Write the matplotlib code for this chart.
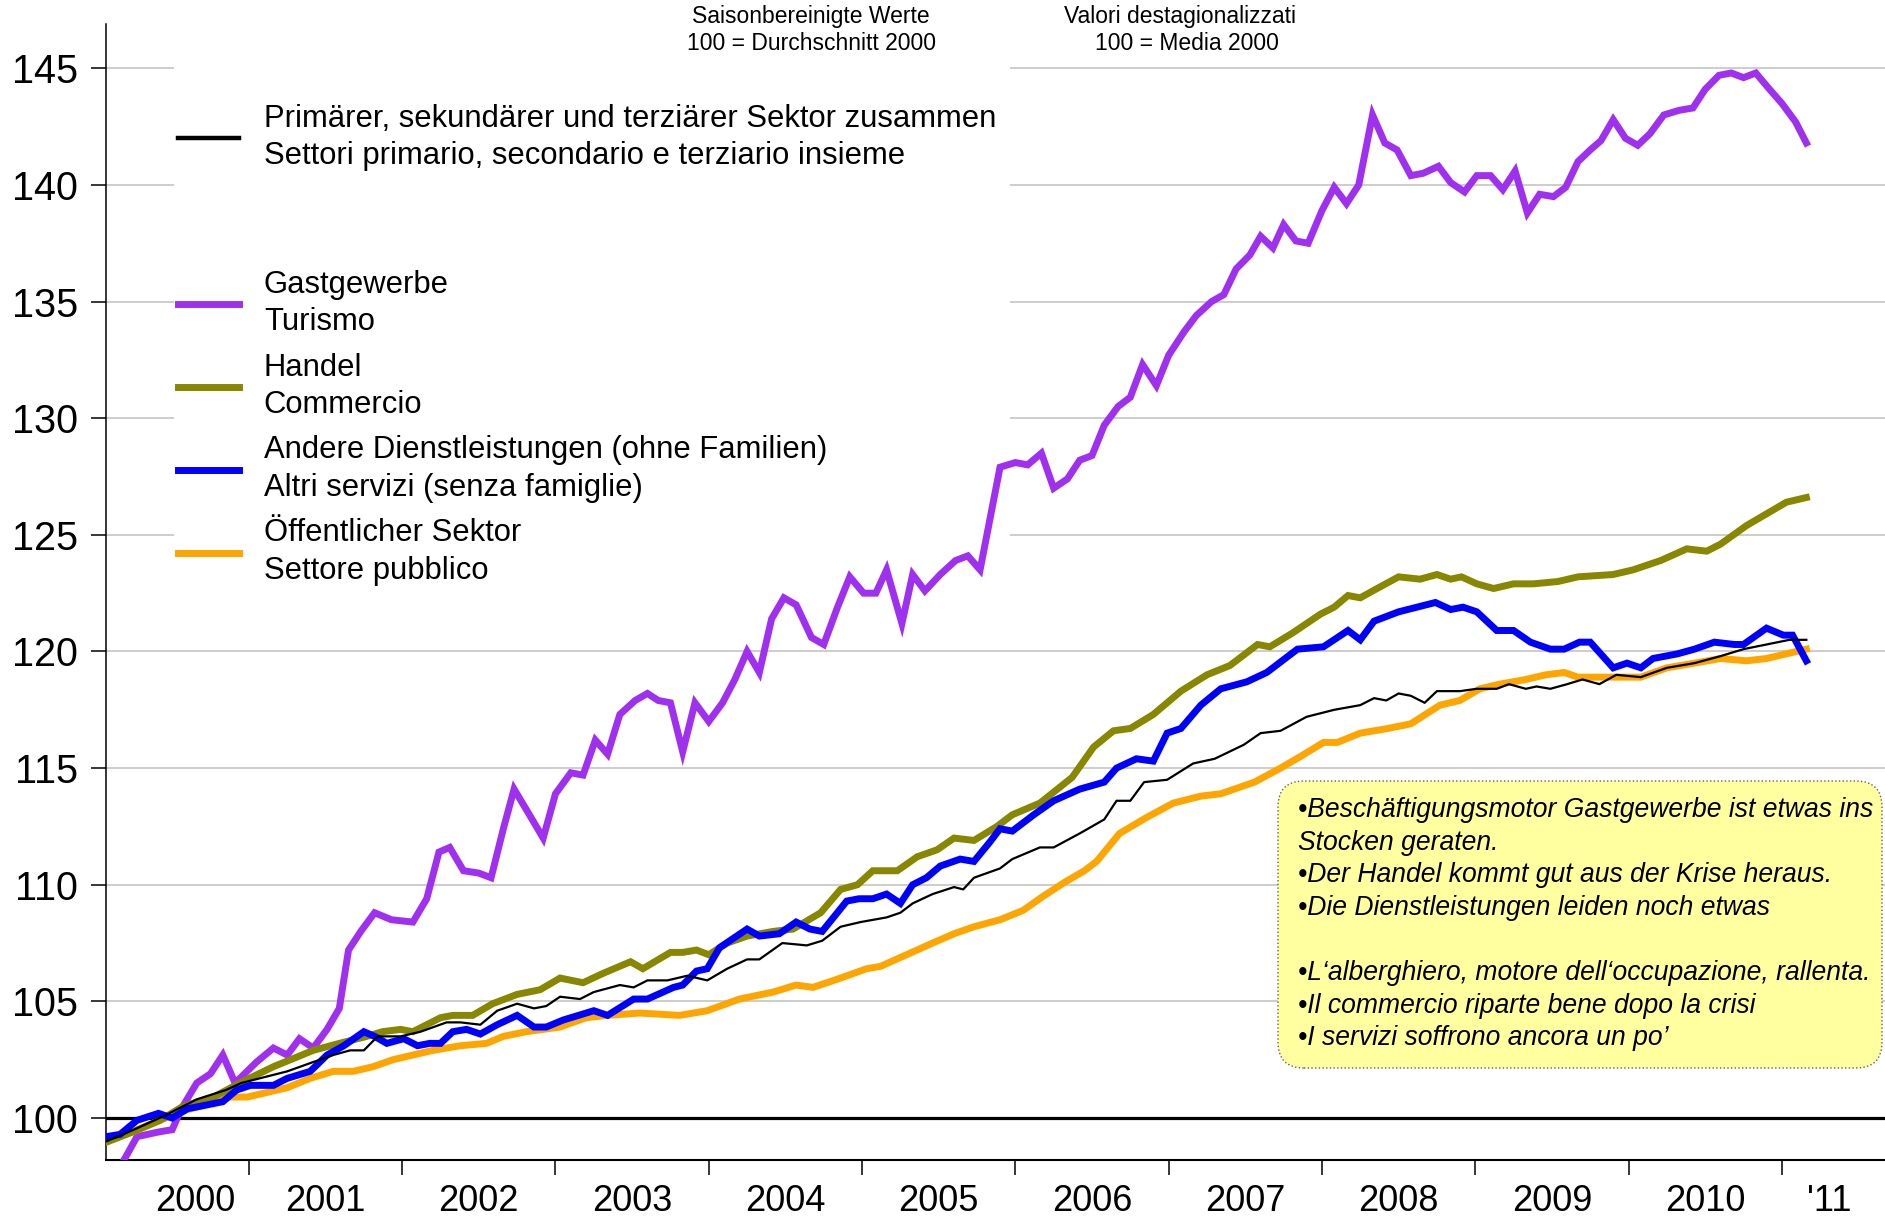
# Employment index chart: five sectors, monthly values, 100 = average 2000
import matplotlib
matplotlib.use('Agg')
import matplotlib.pyplot as plt
from matplotlib.patches import Rectangle, FancyBboxPatch
from matplotlib.lines import Line2D
from matplotlib.transforms import IdentityTransform

plt.rcParams['font.family'] = ['Liberation Sans', 'DejaVu Sans']

# Data (decimal year, index value)
# Gastgewerbe / Turismo
tourism_t = [2000.08, 2000.16, 2000.27, 2000.41, 2000.50, 2000.56, 2000.66, 2000.75, 2000.83, 2000.91,
             2001.05, 2001.16, 2001.25, 2001.33, 2001.42, 2001.51, 2001.59, 2001.65, 2001.73, 2001.82,
             2001.93, 2002.07, 2002.16, 2002.24, 2002.31, 2002.40, 2002.50, 2002.58, 2002.66, 2002.73,
             2002.83, 2002.92, 2003.00, 2003.10, 2003.18, 2003.26, 2003.34, 2003.42, 2003.52, 2003.60,
             2003.67, 2003.75, 2003.83, 2003.91, 2004.00, 2004.09, 2004.17, 2004.25, 2004.33, 2004.41,
             2004.49, 2004.57, 2004.67, 2004.75, 2004.84, 2004.92, 2005.01, 2005.09, 2005.16, 2005.26,
             2005.33, 2005.41, 2005.51, 2005.61, 2005.69, 2005.77, 2005.90, 2006.00, 2006.08, 2006.17,
             2006.25, 2006.34, 2006.42, 2006.50, 2006.58, 2006.67, 2006.75, 2006.83, 2006.92, 2007.00,
             2007.10, 2007.18, 2007.28, 2007.36, 2007.44, 2007.53, 2007.60, 2007.68, 2007.75, 2007.83,
             2007.91, 2008.00, 2008.08, 2008.16, 2008.24, 2008.33, 2008.41, 2008.49, 2008.58, 2008.66,
             2008.76, 2008.84, 2008.93, 2009.01, 2009.10, 2009.18, 2009.26, 2009.34, 2009.42, 2009.51,
             2009.59, 2009.67, 2009.75, 2009.82, 2009.90, 2009.98, 2010.06, 2010.14, 2010.23, 2010.33,
             2010.42, 2010.50, 2010.59, 2010.67, 2010.75, 2010.83, 2010.92, 2011.00, 2011.09, 2011.16]
tourism_v = [97.0, 97.9, 99.2, 99.4, 99.5, 100.4, 101.5, 101.9, 102.7, 101.5,
             102.4, 103.0, 102.7, 103.4, 103.0, 103.8, 104.7, 107.2, 108.0, 108.8,
             108.5, 108.4, 109.4, 111.4, 111.6, 110.6, 110.5, 110.3, 112.4, 114.1,
             113.0, 112.0, 113.9, 114.8, 114.7, 116.2, 115.6, 117.3, 117.9, 118.2,
             117.9, 117.8, 115.7, 117.8, 117.0, 117.8, 118.8, 120.0, 119.1, 121.4,
             122.3, 122.0, 120.6, 120.3, 121.9, 123.2, 122.5, 122.5, 123.5, 121.2,
             123.3, 122.6, 123.3, 123.9, 124.1, 123.5, 127.9, 128.1, 128.0, 128.5,
             127.0, 127.4, 128.2, 128.4, 129.7, 130.5, 130.9, 132.3, 131.4, 132.7,
             133.7, 134.4, 135.0, 135.3, 136.4, 137.0, 137.8, 137.3, 138.3, 137.6,
             137.5, 138.9, 139.9, 139.2, 140.0, 143.0, 141.8, 141.5, 140.4, 140.5,
             140.8, 140.1, 139.7, 140.4, 140.4, 139.8, 140.6, 138.8, 139.6, 139.5,
             139.9, 141.0, 141.5, 141.9, 142.8, 142.0, 141.7, 142.2, 143.0, 143.2,
             143.3, 144.1, 144.7, 144.8, 144.6, 144.8, 144.1, 143.5, 142.7, 141.8]

# Handel / Commercio
trade_t = [2000.07, 2000.24, 2000.42, 2000.57, 2000.77, 2000.94, 2001.16, 2001.42, 2001.59, 2001.77,
           2001.87, 2001.99, 2002.07, 2002.25, 2002.33, 2002.46, 2002.59, 2002.75, 2002.90, 2003.03,
           2003.18, 2003.31, 2003.49, 2003.57, 2003.75, 2003.83, 2003.92, 2004.00, 2004.12, 2004.25,
           2004.42, 2004.55, 2004.73, 2004.86, 2004.97, 2005.07, 2005.23, 2005.36, 2005.49, 2005.60,
           2005.73, 2005.88, 2005.98, 2006.16, 2006.37, 2006.51, 2006.64, 2006.75, 2006.90, 2007.08,
           2007.25, 2007.40, 2007.58, 2007.66, 2007.81, 2007.99, 2008.08, 2008.17, 2008.25, 2008.36,
           2008.50, 2008.64, 2008.75, 2008.84, 2008.91, 2009.01, 2009.12, 2009.25, 2009.38, 2009.54,
           2009.67, 2009.90, 2010.03, 2010.21, 2010.38, 2010.51, 2010.60, 2010.77, 2010.90, 2011.03,
           2011.16]
trade_v = [98.96, 99.4, 99.9, 100.5, 100.9, 101.5, 102.2, 102.9, 103.2, 103.5,
           103.7, 103.8, 103.7, 104.3, 104.4, 104.4, 104.9, 105.3, 105.5, 106.0,
           105.8, 106.2, 106.7, 106.4, 107.1, 107.1, 107.2, 107.0, 107.5, 107.8,
           108.0, 108.1, 108.8, 109.8, 110.0, 110.6, 110.6, 111.2, 111.5, 112.0,
           111.9, 112.5, 113.0, 113.5, 114.6, 115.9, 116.6, 116.7, 117.3, 118.3,
           119.0, 119.4, 120.3, 120.2, 120.8, 121.6, 121.9, 122.4, 122.3, 122.7,
           123.2, 123.1, 123.3, 123.1, 123.2, 122.9, 122.7, 122.9, 122.9, 123.0,
           123.2, 123.3, 123.5, 123.9, 124.4, 124.3, 124.6, 125.4, 125.9, 126.4,
           126.6]

# Andere Dienstleistungen / Altri servizi
services_t = [2000.07, 2000.16, 2000.27, 2000.41, 2000.50, 2000.60, 2000.68, 2000.83, 2000.92, 2001.01,
              2001.16, 2001.25, 2001.40, 2001.51, 2001.62, 2001.75, 2001.82, 2001.90, 2002.01, 2002.10,
              2002.18, 2002.25, 2002.33, 2002.42, 2002.51, 2002.62, 2002.75, 2002.86, 2002.94, 2003.05,
              2003.25, 2003.34, 2003.51, 2003.60, 2003.77, 2003.83, 2003.92, 2003.99, 2004.07, 2004.25,
              2004.33, 2004.46, 2004.57, 2004.66, 2004.74, 2004.90, 2004.98, 2005.07, 2005.16, 2005.25,
              2005.33, 2005.42, 2005.51, 2005.64, 2005.73, 2005.83, 2005.90, 2005.98, 2006.12, 2006.25,
              2006.42, 2006.58, 2006.66, 2006.79, 2006.90, 2006.99, 2007.08, 2007.21, 2007.34, 2007.51,
              2007.64, 2007.84, 2008.01, 2008.17, 2008.25, 2008.34, 2008.50, 2008.62, 2008.74, 2008.84,
              2008.92, 2009.01, 2009.14, 2009.25, 2009.36, 2009.49, 2009.58, 2009.68, 2009.75, 2009.90,
              2009.99, 2010.08, 2010.16, 2010.32, 2010.43, 2010.56, 2010.69, 2010.75, 2010.90, 2011.01,
              2011.07, 2011.16]
services_v = [99.2, 99.3, 99.9, 100.2, 100.0, 100.4, 100.5, 100.7, 101.2, 101.4,
              101.4, 101.7, 102.0, 102.7, 103.1, 103.7, 103.5, 103.2, 103.4, 103.1,
              103.2, 103.2, 103.7, 103.8, 103.6, 104.0, 104.4, 103.9, 103.9, 104.2,
              104.6, 104.4, 105.1, 105.1, 105.6, 105.7, 106.3, 106.4, 107.3, 108.1,
              107.8, 107.9, 108.4, 108.1, 108.0, 109.3, 109.4, 109.4, 109.6, 109.2,
              110.0, 110.3, 110.8, 111.1, 111.0, 111.8, 112.4, 112.3, 113.0, 113.6,
              114.1, 114.4, 115.0, 115.4, 115.3, 116.5, 116.7, 117.7, 118.4, 118.7,
              119.1, 120.1, 120.2, 120.9, 120.5, 121.3, 121.7, 121.9, 122.1, 121.8,
              121.9, 121.7, 120.9, 120.9, 120.4, 120.1, 120.1, 120.4, 120.4, 119.3,
              119.5, 119.3, 119.7, 119.9, 120.1, 120.4, 120.3, 120.3, 121.0, 120.7,
              120.7, 119.6]

# Oeffentlicher Sektor / Settore pubblico
public_t = [2000.07, 2000.24, 2000.42, 2000.57, 2000.73, 2000.86, 2000.99, 2001.12, 2001.25, 2001.40,
            2001.55, 2001.68, 2001.81, 2001.94, 2002.07, 2002.20, 2002.38, 2002.55, 2002.66, 2002.81,
            2003.03, 2003.20, 2003.34, 2003.55, 2003.81, 2003.99, 2004.20, 2004.42, 2004.57, 2004.68,
            2004.86, 2005.03, 2005.12, 2005.29, 2005.46, 2005.60, 2005.73, 2005.90, 2006.05, 2006.18,
            2006.32, 2006.45, 2006.53, 2006.68, 2006.86, 2007.03, 2007.21, 2007.34, 2007.56, 2007.73,
            2007.86, 2008.01, 2008.10, 2008.25, 2008.43, 2008.58, 2008.77, 2008.90, 2009.03, 2009.16,
            2009.33, 2009.46, 2009.58, 2009.67, 2009.86, 2010.08, 2010.25, 2010.43, 2010.60, 2010.77,
            2010.90, 2011.03, 2011.16]
public_v = [99.0, 99.4, 99.9, 100.3, 100.6, 100.9, 100.9, 101.1, 101.3, 101.7,
            102.0, 102.0, 102.2, 102.5, 102.7, 102.9, 103.1, 103.2, 103.5, 103.7,
            103.9, 104.3, 104.4, 104.5, 104.4, 104.6, 105.1, 105.4, 105.7, 105.6,
            106.0, 106.4, 106.5, 107.0, 107.5, 107.9, 108.2, 108.5, 108.9, 109.5,
            110.1, 110.6, 111.0, 112.2, 112.9, 113.5, 113.8, 113.9, 114.4, 115.0,
            115.5, 116.1, 116.1, 116.5, 116.7, 116.9, 117.7, 117.9, 118.4, 118.6,
            118.8, 119.0, 119.1, 118.9, 118.9, 118.9, 119.3, 119.5, 119.7, 119.6,
            119.7, 119.9, 120.1]

# Primaerer, sekundaerer und terziaerer Sektor zusammen
total_t = [2000.07, 2000.25, 2000.45, 2000.66, 2000.85, 2000.95, 2001.07, 2001.25, 2001.42, 2001.55,
           2001.66, 2001.75, 2001.84, 2001.99, 2002.12, 2002.29, 2002.38, 2002.51, 2002.62, 2002.75,
           2002.86, 2002.94, 2003.03, 2003.16, 2003.25, 2003.42, 2003.51, 2003.60, 2003.73, 2003.86,
           2003.99, 2004.12, 2004.25, 2004.33, 2004.48, 2004.64, 2004.74, 2004.86, 2004.99, 2005.16,
           2005.25, 2005.33, 2005.46, 2005.60, 2005.66, 2005.73, 2005.90, 2005.98, 2006.16, 2006.25,
           2006.42, 2006.58, 2006.66, 2006.75, 2006.84, 2006.99, 2007.16, 2007.30, 2007.49, 2007.60,
           2007.73, 2007.90, 2008.08, 2008.25, 2008.34, 2008.42, 2008.50, 2008.58, 2008.67, 2008.75,
           2008.90, 2009.01, 2009.14, 2009.22, 2009.33, 2009.40, 2009.49, 2009.60, 2009.70, 2009.81,
           2009.92, 2010.08, 2010.25, 2010.43, 2010.60, 2010.75, 2010.90, 2011.05, 2011.16]
total_v = [99.0, 99.5, 100.1, 100.8, 101.2, 101.5, 101.7, 102.0, 102.4, 102.7,
           102.9, 102.9, 103.5, 103.5, 103.7, 104.1, 104.1, 104.0, 104.6, 104.9,
           104.7, 104.8, 105.2, 105.1, 105.4, 105.7, 105.6, 105.9, 105.9, 106.1,
           105.9, 106.4, 106.8, 106.8, 107.5, 107.4, 107.6, 108.2, 108.4, 108.6,
           108.8, 109.2, 109.6, 109.9, 109.8, 110.3, 110.7, 111.1, 111.6, 111.6,
           112.2, 112.8, 113.6, 113.6, 114.4, 114.5, 115.2, 115.4, 116.0, 116.5,
           116.6, 117.2, 117.5, 117.7, 118.0, 117.9, 118.2, 118.1, 117.8, 118.3,
           118.3, 118.4, 118.4, 118.6, 118.4, 118.5, 118.4, 118.6, 118.8, 118.6,
           119.0, 118.9, 119.3, 119.5, 119.8, 120.1, 120.3, 120.5, 120.5]

# Axis labels
year_ticks = [2001, 2002, 2003, 2004, 2005, 2006, 2007, 2008, 2009, 2010, 2011]
year_label_pos = [2000.65, 2001.5, 2002.5, 2003.5, 2004.5, 2005.5, 2006.5, 2007.5, 2008.5, 2009.5,
                  2010.5, 2011.31]
year_labels = ['2000', '2001', '2002', '2003', '2004', '2005', '2006', '2007', '2008', '2009',
               '2010', "'11"]
y_ticks = [100, 105, 110, 115, 120, 125, 130, 135, 140, 145]

legend_labels = ['Primärer, sekundärer und terziärer Sektor zusammen\nSettori primario, secondario e terziario insieme',
                 'Gastgewerbe\nTurismo',
                 'Handel\nCommercio',
                 'Andere Dienstleistungen (ohne Familien)\nAltri servizi (senza famiglie)',
                 'Öffentlicher Sektor\nSettore pubblico']

note_text = ('•Beschäftigungsmotor Gastgewerbe ist etwas ins\n'
             'Stocken geraten.\n'
             '•Der Handel kommt gut aus der Krise heraus.\n'
             '•Die Dienstleistungen leiden noch etwas\n'
             '\n'
             '•L‘alberghiero, motore dell‘occupazione, rallenta.\n'
             '•Il commercio riparte bene dopo la crisi\n'
             '•I servizi soffrono ancora un po’')

# Colours
c_tourism = '#A030F0'
c_trade = '#878700'
c_services = '#0000FF'
c_public = '#FFA500'
c_total = '#000000'

W, H = 1885, 1217
fig = plt.figure(figsize=(W / 100, H / 100), dpi=100)
ax = fig.add_axes([106 / W, 1 - 1160 / H, 1 - 106 / W, (1160 - 24) / H])

# Light gray grid lines
for yv in y_ticks[1:]:
    ax.axhline(yv, color='#C0C0C0', lw=1.1, zorder=0.5)
# Bold line at 100
ax.axhline(100, color='black', lw=2.3, zorder=1.5)

# White area behind the legend text (hides the grid there)
ax.add_patch(Rectangle((174 / W, 1 - 590 / H), (1010 - 174) / W, (590 - 40) / H,
                       transform=fig.transFigure, facecolor='white', edgecolor='none',
                       zorder=1, clip_on=False))

# The five series
ax.plot(tourism_t, tourism_v, color=c_tourism, lw=5, zorder=3, solid_joinstyle='miter')
ax.plot(public_t, public_v, color=c_public, lw=5, zorder=3, solid_joinstyle='miter')
ax.plot(trade_t, trade_v, color=c_trade, lw=5, zorder=3, solid_joinstyle='miter')
ax.plot(services_t, services_v, color=c_services, lw=5, zorder=4, solid_joinstyle='miter')
ax.plot(total_t, total_v, color=c_total, lw=1.6, zorder=5)

ax.set_xlim(2000.068, 2011.673)
ax.set_ylim(98.2, 146.9)

# Spines
for side in ['top', 'right']:
    ax.spines[side].set_visible(False)
ax.spines['left'].set_linewidth(1.1)
ax.spines['bottom'].set_linewidth(1.5)

# Ticks
ax.set_yticks(y_ticks)
ax.tick_params(axis='y', direction='out', length=11, width=1.1, pad=9, labelsize=28.5)
ax.set_xticks(year_ticks)
ax.set_xticklabels([])
ax.set_xticks(year_label_pos, minor=True)
ax.set_xticklabels(year_labels, minor=True)
ax.tick_params(axis='x', which='major', direction='out', length=11, width=1.1)
ax.tick_params(axis='x', which='minor', length=0, pad=17, labelsize=26)

# Legend with a blank row after the first entry
handles = [Line2D([], [], color=c_total, lw=3.2),
           Line2D([], [], color='none'),
           Line2D([], [], color=c_tourism, lw=5),
           Line2D([], [], color=c_trade, lw=5),
           Line2D([], [], color=c_services, lw=5),
           Line2D([], [], color=c_public, lw=5)]
labels = [legend_labels[0], ' \n '] + legend_labels[1:]
leg = ax.legend(handles, labels, loc='upper left', bbox_to_anchor=(178 / W, 1 - 104 / H),
                bbox_transform=fig.transFigure, frameon=False, fontsize=22.3, handlelength=1.97,
                handletextpad=0.8, labelspacing=0.5, borderpad=0, borderaxespad=0)
for t in leg.get_texts():
    t.set_linespacing(1.32)

# Header text
fig.text(811 / W, 1 - 16 / H, 'Saisonbereinigte Werte', ha='center', va='center', fontsize=16.5)
fig.text(811 / W, 1 - 43 / H, '100 = Durchschnitt 2000', ha='center', va='center', fontsize=16.5)
fig.text(1180 / W, 1 - 16 / H, 'Valori destagionalizzati', ha='center', va='center', fontsize=16.5)
fig.text(1187 / W, 1 - 43 / H, '100 = Media 2000', ha='center', va='center', fontsize=16.5)

# Yellow note box
box = FancyBboxPatch((1278, H - 1068), 1882 - 1278, 1068 - 781,
                     boxstyle='round,pad=0,rounding_size=26', transform=IdentityTransform(),
                     facecolor='#FFFFA0', edgecolor='#606060', lw=1, linestyle=':', zorder=6)
fig.patches.append(box)
fig.text(1298 / W, 1 - 797 / H, note_text, ha='left', va='top', fontsize=19.1, style='italic',
         linespacing=1.33, zorder=7)

fig.savefig('out.png', dpi=100)
